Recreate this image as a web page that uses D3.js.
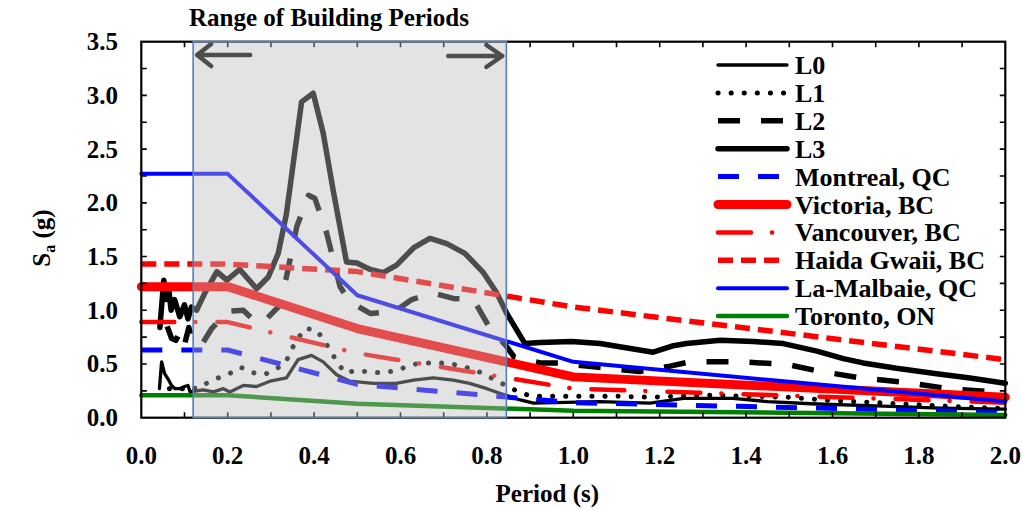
<!DOCTYPE html>
<html lang="en">
<head>
    <meta charset="UTF-8">
    <title>Spectral acceleration vs period</title>
    <script src="https://d3js.org/d3.v7.min.js"></script>
    <style>
        body { margin: 0; background: #fff; }
        svg { display: block; }
        text { font-family: "Liberation Serif", "Times New Roman", serif; font-weight: bold; fill: #000; }
    </style>
</head>
<body>
    <div id="chart"></div>

    <script>
        // Code design spectra (periods in s, Sa in g)
        const codeT = [0, 0.2, 0.5, 1.0, 2.0];
        const montrealSa = [0.63, 0.63, 0.31, 0.14, 0.05];
        const victoriaSa = [1.22, 1.22, 0.83, 0.38, 0.19];
        const vancouverSa = [0.89, 0.89, 0.60, 0.27, 0.14];
        const haidaSa = [1.43, 1.43, 1.36, 1.03, 0.54];
        const malbaieSa = [2.27, 2.27, 1.14, 0.52, 0.15];
        const torontoSa = [0.21, 0.21, 0.13, 0.065, 0.025];

        // Record spectra
        const l0T = [0.042, 0.047, 0.054, 0.062, 0.07, 0.078, 0.089, 0.1, 0.108, 0.113, 0.143, 0.167, 0.19, 0.205, 0.236, 0.267, 0.298, 0.336, 0.363, 0.394, 0.421, 0.452, 0.483, 0.537, 0.59, 0.63, 0.676, 0.722, 0.76, 0.8, 0.842, 0.877, 0.908, 1.06, 1.178, 1.255, 1.37, 1.45, 1.55, 1.7, 1.85, 2.0];
        const l0Sa = [0.27, 0.52, 0.41, 0.36, 0.30, 0.27, 0.27, 0.29, 0.30, 0.24, 0.26, 0.24, 0.27, 0.24, 0.30, 0.29, 0.34, 0.37, 0.54, 0.58, 0.52, 0.40, 0.34, 0.32, 0.32, 0.35, 0.37, 0.35, 0.32, 0.27, 0.21, 0.165, 0.135, 0.15, 0.135, 0.18, 0.18, 0.15, 0.13, 0.11, 0.09, 0.08];

        const l1T = [0.065, 0.08, 0.095, 0.105, 0.128, 0.151, 0.178, 0.204, 0.23, 0.257, 0.284, 0.312, 0.336, 0.348, 0.378, 0.404, 0.422, 0.438, 0.455, 0.471, 0.502, 0.533, 0.562, 0.593, 0.622, 0.651, 0.68, 0.709, 0.74, 0.769, 0.797, 0.823, 0.85, 0.877, 0.907, 1.0, 1.1, 1.18, 1.3, 1.41, 1.5, 1.6, 1.7, 1.8, 1.9, 2.0];
        const l1Sa = [0.27, 0.28, 0.27, 0.29, 0.27, 0.32, 0.37, 0.41, 0.47, 0.42, 0.40, 0.45, 0.53, 0.64, 0.83, 0.82, 0.73, 0.62, 0.51, 0.42, 0.44, 0.42, 0.42, 0.44, 0.49, 0.51, 0.51, 0.51, 0.48, 0.45, 0.40, 0.34, 0.29, 0.23, 0.20, 0.20, 0.20, 0.19, 0.21, 0.20, 0.19, 0.16, 0.14, 0.12, 0.10, 0.085];

        const l2T = [0.06, 0.07, 0.08, 0.09, 0.1, 0.11, 0.12, 0.14, 0.163, 0.2, 0.236, 0.267, 0.29, 0.317, 0.336, 0.36, 0.387, 0.402, 0.429, 0.46, 0.483, 0.53, 0.587, 0.626, 0.676, 0.722, 0.769, 0.803, 0.846, 0.862, 0.923, 0.969, 1.03, 1.13, 1.154, 1.224, 1.27, 1.386, 1.432, 1.49, 1.56, 1.665, 1.765, 1.87, 1.97, 2.0];
        const l2Sa = [0.85, 0.74, 0.72, 0.80, 0.68, 0.84, 0.70, 0.68, 0.83, 0.99, 1.00, 0.88, 0.92, 1.03, 1.31, 1.78, 2.07, 2.04, 1.72, 1.22, 1.08, 0.97, 0.99, 1.10, 1.16, 1.11, 1.10, 0.86, 0.66, 0.57, 0.51, 0.51, 0.48, 0.44, 0.43, 0.48, 0.52, 0.52, 0.51, 0.50, 0.44, 0.37, 0.33, 0.27, 0.24, 0.23];

        const l3T = [0.043, 0.052, 0.058, 0.064, 0.069, 0.077, 0.089, 0.1, 0.108, 0.116, 0.128, 0.147, 0.175, 0.198, 0.228, 0.267, 0.294, 0.317, 0.336, 0.371, 0.398, 0.421, 0.444, 0.475, 0.499, 0.53, 0.56, 0.591, 0.63, 0.668, 0.707, 0.749, 0.792, 0.823, 0.846, 0.888, 0.923, 0.996, 1.062, 1.139, 1.185, 1.232, 1.262, 1.34, 1.417, 1.486, 1.564, 1.625, 1.671, 1.748, 1.841, 1.918, 2.0];
        const l3Sa = [0.84, 1.28, 1.10, 1.18, 1.00, 1.10, 0.94, 1.05, 0.92, 1.03, 1.00, 1.16, 1.36, 1.28, 1.38, 1.20, 1.31, 1.53, 1.90, 2.94, 3.02, 2.65, 2.12, 1.45, 1.44, 1.38, 1.35, 1.42, 1.58, 1.67, 1.62, 1.53, 1.35, 1.16, 0.97, 0.69, 0.70, 0.71, 0.69, 0.64, 0.61, 0.67, 0.69, 0.72, 0.71, 0.69, 0.62, 0.55, 0.51, 0.46, 0.41, 0.37, 0.32];

        const seriesNames = ["L0", "L1", "L2", "L3", "Montreal, QC", "Victoria, BC", "Vancouver, BC", "Haida Gwaii, BC", "La-Malbaie, QC", "Toronto, ON"];
        const buildingRange = [0.12, 0.845];
        const xTicks = [0, 0.2, 0.4, 0.6, 0.8, 1.0, 1.2, 1.4, 1.6, 1.8, 2.0];
        const yTicks = [0, 0.5, 1.0, 1.5, 2.0, 2.5, 3.0, 3.5];

        const series = [
            { t: l0T, sa: l0Sa, color: "#000", width: 3.3, dash: null, cap: "round" },
            { t: l1T, sa: l1Sa, color: "#000", width: 5, dash: "0.1,13", cap: "round" },
            { t: l2T, sa: l2Sa, color: "#000", width: 5.5, dash: "22,21", cap: "butt" },
            { t: l3T, sa: l3Sa, color: "#000", width: 5.5, dash: null, cap: "round" },
            { t: codeT, sa: montrealSa, color: "#0000ff", width: 5, dash: "21,19", cap: "butt" },
            { t: codeT, sa: victoriaSa, color: "#ff0000", width: 9, dash: null, cap: "round" },
            { t: codeT, sa: vancouverSa, color: "#ff0000", width: 4.5, dash: "33,21,0.1,22", cap: "round" },
            { t: codeT, sa: haidaSa, color: "#ff0000", width: 5.5, dash: "15,8", cap: "butt" },
            { t: codeT, sa: malbaieSa, color: "#0000ff", width: 4, dash: null, cap: "round" },
            { t: codeT, sa: torontoSa, color: "#008000", width: 4.5, dash: null, cap: "round" }
        ];

        const width = 1022, height = 510;
        const svg = d3.select("#chart").append("svg")
            .attr("width", width).attr("height", height);

        const x = d3.scaleLinear().domain([0, 2]).range([141.3, 1005.3]);
        const y = d3.scaleLinear().domain([0, 3.5]).range([417.7, 41.7]);

        const line = d3.line().x(d => x(d[0])).y(d => y(d[1]));

        // data lines
        const lines = svg.append("g").attr("fill", "none");
        series.forEach(s => {
            lines.append("path")
                .datum(s.t.map((t, i) => [t, s.sa[i]]))
                .attr("d", line)
                .attr("stroke", s.color)
                .attr("stroke-width", s.width)
                .attr("stroke-linecap", s.cap)
                .attr("stroke-linejoin", "round")
                .attr("stroke-dasharray", s.dash);
        });

        // axes frame and inward ticks on all sides
        const frame = svg.append("g").attr("stroke", "#000");
        frame.append("rect")
            .attr("x", x(0)).attr("y", y(3.5))
            .attr("width", x(2) - x(0)).attr("height", y(0) - y(3.5))
            .attr("fill", "none").attr("stroke-width", 2.2);

        const tl = 5.5;
        const xMinor = d3.range(1, 20).map(i => i / 10);
        frame.selectAll(".xt").data(xMinor).join("path")
            .attr("stroke-width", 1.6)
            .attr("d", d => `M${x(d)},${y(0)}v${-tl}M${x(d)},${y(3.5)}v${tl}`);
        const yMinor = d3.range(1, 14).map(i => i / 4);
        frame.selectAll(".yt").data(yMinor).join("path")
            .attr("stroke-width", 1.6)
            .attr("d", d => `M${x(0)},${y(d)}h${tl}M${x(2)},${y(d)}h${-tl}`);

        // tick labels
        svg.append("g").selectAll("text").data(xTicks).join("text")
            .attr("x", d => x(d)).attr("y", 464)
            .attr("text-anchor", "middle").attr("font-size", 25)
            .text(d => d3.format(".1f")(d));
        svg.append("g").selectAll("text").data(yTicks).join("text")
            .attr("x", 118).attr("y", d => y(d) + 8.5)
            .attr("text-anchor", "end").attr("font-size", 25)
            .text(d => d3.format(".1f")(d));

        // axis titles
        svg.append("text")
            .attr("x", x(1) - 26).attr("y", 502)
            .attr("text-anchor", "middle").attr("font-size", 25)
            .text("Period (s)");
        const yl = svg.append("text")
            .attr("transform", `translate(50,238) rotate(-90)`)
            .attr("text-anchor", "middle").attr("font-size", 25);
        yl.append("tspan").text("S");
        yl.append("tspan").attr("font-size", 16).attr("dy", 5).text("a");
        yl.append("tspan").attr("dy", -5).text(" (g)");

        // arrows inside building period band (drawn under the overlay)
        const x0 = x(buildingRange[0]), x1 = x(buildingRange[1]);
        const arrows = svg.append("g").attr("stroke", "#000").attr("stroke-width", 4.5)
            .attr("fill", "none").attr("stroke-linecap", "round").attr("stroke-linejoin", "round");
        arrows.append("path").attr("d", `M${x0 + 57},55H${x0 + 4}M${x0 + 18},44L${x0 + 4},55L${x0 + 18},66`);
        arrows.append("path").attr("d", `M${x1 - 58},56H${x1 - 4}M${x1 - 20},45L${x1 - 4},56L${x1 - 20},67`);

        // building period overlay
        svg.append("rect")
            .attr("x", x0).attr("y", y(3.5))
            .attr("width", x1 - x0).attr("height", y(0) - y(3.5))
            .attr("fill", "#bbbbbb").attr("fill-opacity", 0.41)
            .attr("stroke", "#4f81bd").attr("stroke-width", 1.6);

        svg.append("text")
            .attr("x", 329).attr("y", 26)
            .attr("text-anchor", "middle").attr("font-size", 25)
            .text("Range of Building Periods");

        // legend
        const legend = svg.append("g");
        series.forEach((s, i) => {
            const ly = 65 + i * 27.9;
            legend.append("path")
                .attr("d", `M718,${ly}H787`)
                .attr("stroke", s.color)
                .attr("stroke-width", s.width)
                .attr("stroke-linecap", s.cap)
                .attr("stroke-dasharray", s.dash)
                .attr("fill", "none");
            legend.append("text")
                .attr("x", 795).attr("y", ly + 9)
                .attr("font-size", 26)
                .text(seriesNames[i]);
        });
    </script>
</body>
</html>
